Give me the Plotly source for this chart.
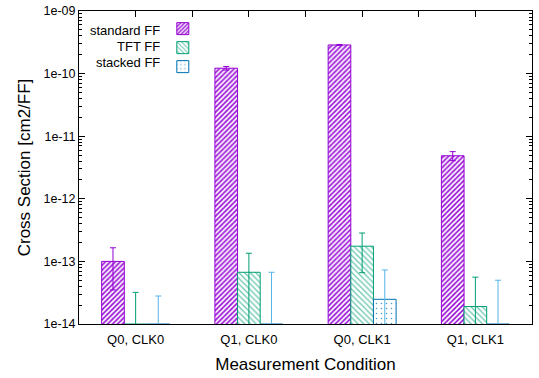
import plotly.graph_objects as go
import numpy as np

categories = ["Q0, CLK0", "Q1, CLK0", "Q0, CLK1", "Q1, CLK1"]
positions = [0, 1, 2, 3]

standard_vals = [1.0e-13, 1.22e-10, 2.87e-10, 4.87e-12]
standard_err = [6.5e-14, 8e-12, 5e-12, 8e-13]

tft_vals = [1.0e-14, 6.7e-14, 1.75e-13, 1.9e-14]
tft_err = [2.2e-14, 6.8e-14, 1.09e-13, 3.7e-14]

stacked_vals = [1.0e-14, 1.0e-14, 2.48e-14, 1.0e-14]
stacked_err = [1.8e-14, 5.7e-14, 4.82e-14, 4.0e-14]

series_names = ["standard FF", "TFT FF", "stacked FF"]

ytick_vals = [1e-14, 1e-13, 1e-12, 1e-11, 1e-10, 1e-9]
ytick_text = ["1e-14", "1e-13", "1e-12", "1e-11", "1e-10", "1e-09"]

FONT = "Liberation Sans"

fig = go.Figure()

def add_series(vals, err, line_c, err_c, shape, size, solidity, fgopacity, offset):
    fig.add_trace(go.Bar(
        x=positions, y=vals, name=" ",
        width=0.2, offset=offset,
        marker=dict(color="white",
                    line=dict(color=line_c, width=1),
                    pattern=dict(shape=shape, fgcolor=line_c, bgcolor="white",
                                 size=size, solidity=solidity, fgopacity=fgopacity)),
        error_y=dict(type="data", array=err, arrayminus=err, symmetric=False,
                     color=err_c, thickness=1, width=3),
        hoverinfo="y",
    ))

add_series(standard_vals, standard_err, "#9400D3", "#9400D3", "/", 3.5, 0.45, 1.0, -0.3)
add_series(tft_vals, tft_err, "#009E73", "#009E73", "\\", 4, 0.3, 0.6, -0.1)
add_series(stacked_vals, stacked_err, "#0072B2", "#56B4E9", ".", 5, 0.08, 0.7, 0.1)

# invisible trace to carry the top axis
fig.add_trace(go.Scatter(x=[-0.5, 3.5], y=[1e-14, 1e-14], xaxis="x2", mode="lines",
                         line=dict(width=0), showlegend=False, hoverinfo="skip"))

minor_vals = []
for e in range(-14, -9):
    for k in range(2, 10):
        minor_vals.append(k * 10.0 ** e)

fig.update_layout(
    width=539, height=378,
    margin=dict(l=79, r=7, t=11, b=54, autoexpand=False),
    paper_bgcolor="white", plot_bgcolor="white",
    font=dict(family=FONT, size=13, color="black"),
    showlegend=True,
    barmode="overlay",
    legend=dict(x=0.185, y=0.99, xanchor="left", yanchor="top",
                bgcolor="rgba(0,0,0,0)", font=dict(size=8), tracegroupgap=0,
                itemwidth=30),
    xaxis=dict(range=[-0.5, 3.5], tickvals=positions, ticktext=categories,
               ticks="", showline=True, linecolor="black", linewidth=1, mirror=True,
               showgrid=False, zeroline=False, tickfont=dict(size=13), automargin=False,
               ticklabelstandoff=3,
               title=dict(text="Measurement Condition", font=dict(size=17), standoff=12)),
    xaxis2=dict(range=[-0.5, 3.5], overlaying="x", side="top", automargin=False,
                tickvals=list(np.arange(-0.5, 3.51, 0.5)), ticks="inside", ticklen=6,
                tickcolor="black", showticklabels=False, showgrid=False, zeroline=False,
                showline=False),
    yaxis=dict(type="log", range=[-14, -9], tickvals=ytick_vals, ticktext=ytick_text,
               ticks="inside", ticklen=6, tickcolor="black", mirror="ticks",
               showline=True, linecolor="black", linewidth=1, showgrid=False,
               tickfont=dict(size=12.5), automargin=False,
               minor=dict(tickvals=minor_vals, ticks="inside", ticklen=3, tickcolor="black",
                          showgrid=False),
               title=dict(text="Cross Section [cm2/FF]", font=dict(size=17), standoff=8)),
)

leg_x = (162 - 79) / 453
for i, (name, ypx) in enumerate(zip(series_names, [30, 46, 62])):
    fig.add_annotation(text=name, xref="paper", yref="paper",
                       x=leg_x, y=(324 - ypx) / 313, xanchor="right", yanchor="middle",
                       showarrow=False, font=dict(size=13, family=FONT))

fig.write_html("out.html", config={"displayModeBar": False},
               post_script="document.body.style.margin='0';")
